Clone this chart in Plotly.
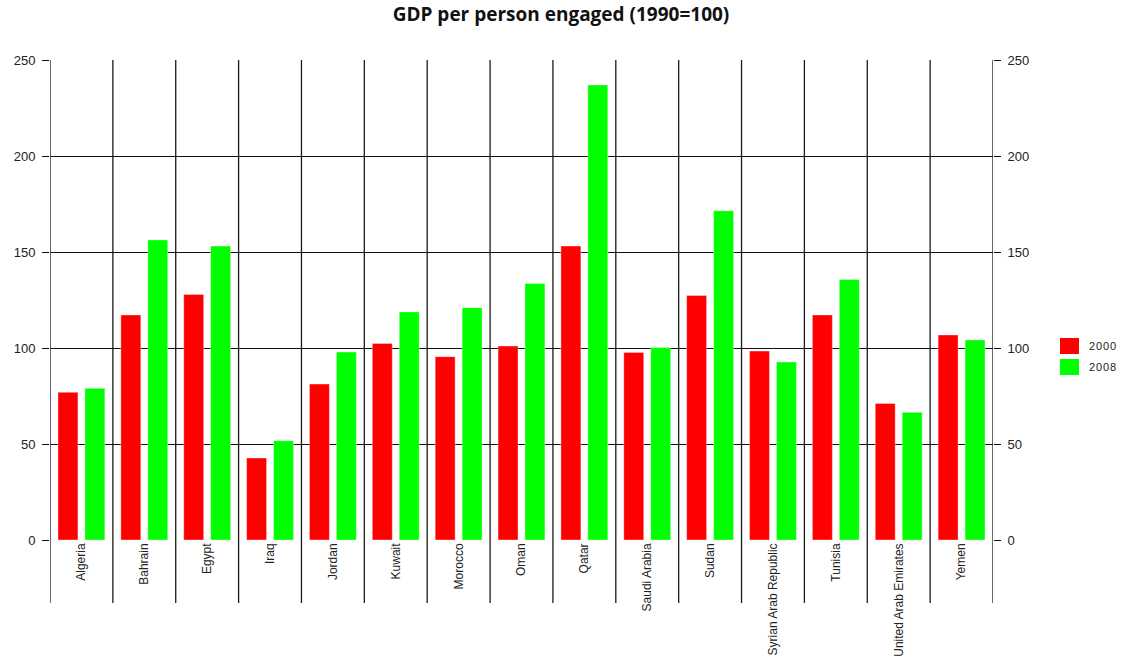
import plotly.graph_objects as go

# GDP per person engaged, index 1990 = 100
countries = ["Algeria", "Bahrain", "Egypt", "Iraq", "Jordan", "Kuwait", "Morocco",
             "Oman", "Qatar", "Saudi Arabia", "Sudan", "Syrian Arab Republic",
             "Tunisia", "United Arab Emirates", "Yemen"]
values_2000 = [76.9, 117.2, 127.9, 42.7, 81.2, 102.4, 95.5, 101.0, 153.1, 97.7,
               127.4, 98.4, 117.2, 71.1, 106.8]
values_2008 = [79.0, 156.3, 153.1, 51.7, 97.9, 118.8, 121.0, 133.6, 237.0, 100.2,
               171.5, 92.7, 135.7, 66.5, 104.2]
series_names = ["2000", "2008"]
series_colors = ["#ff0000", "#00ff00"]
y_ticks = [0, 50, 100, 150, 200, 250]

W, H = 1122, 663
L, R, T, B = 50, 129, 60, 123
plot_w = W - L - R
plot_h = H - T - B

fig = go.Figure()
for name, vals, col in zip(series_names, [values_2000, values_2008], series_colors):
    fig.add_trace(go.Bar(x=countries, y=vals, name=name, marker_color=col,
                         marker_line_color="rgba(255,255,255,0.6)", marker_line_width=0.6,
                         showlegend=False))

# invisible trace so the mirrored right-hand axis gets drawn
fig.add_trace(go.Scatter(x=[countries[0]], y=[0], yaxis="y2", mode="markers",
                         marker_opacity=0, showlegend=False, hoverinfo="skip"))

axis_font = dict(family="Liberation Sans, Arial, sans-serif", size=13, color="#222")
yaxis_common = dict(range=[0, 250], tickvals=y_ticks, ticks="outside", ticklen=7,
                    tickcolor="#111", tickwidth=1, tickfont=axis_font,
                    ticklabelstandoff=4,
                    showline=False, zeroline=False, fixedrange=True)

# category separators running from the top of the plot down through the label band
line_drop = 63 / plot_h
shapes = []
for i in range(len(countries) + 1):
    shapes.append(dict(type="line", xref="x", yref="paper", x0=i - 0.5, x1=i - 0.5,
                       y0=-line_drop, y1=1, line=dict(color="#1a1a1a", width=1.3),
                       layer="above"))

# legend drawn as swatches with labels on the right
annotations = []
sw_w, sw_h = 19, 16
leg_x = 1060
leg_y = [338, 359]
for name, col, ly in zip(series_names, series_colors, leg_y):
    x0 = (leg_x - L) / plot_w
    x1 = (leg_x + sw_w - L) / plot_w
    y1 = (T + plot_h - ly) / plot_h
    y0 = (T + plot_h - ly - sw_h) / plot_h
    shapes.append(dict(type="rect", xref="paper", yref="paper", x0=x0, x1=x1, y0=y0, y1=y1,
                       fillcolor=col, line=dict(color=col, width=0)))
    annotations.append(dict(xref="paper", yref="paper", x=(leg_x + 27 - L) / plot_w,
                            y=(y0 + y1) / 2, text=" ".join(name).replace(" ", "\u200a"),
                            showarrow=False, xanchor="left", yanchor="middle",
                            font=dict(family="Liberation Sans, Arial, sans-serif",
                                      size=11, color="#222")))

fig.update_layout(
    width=W, height=H,
    margin=dict(l=L, r=R, t=T, b=B, autoexpand=False),
    paper_bgcolor="white", plot_bgcolor="white",
    title=dict(text="<b>GDP per person engaged (1990=100)</b>", x=0.5, xanchor="center",
               y=1 - 14 / H, yanchor="middle",
               font=dict(family="Open Sans, sans-serif", size=19, color="#111")),
    barmode="group", bargap=0.143, bargroupgap=0.26,
    xaxis=dict(type="category", range=[-0.5, len(countries) - 0.5], tickangle=-90,
               ticks="", showgrid=False, showline=False, zeroline=False,
               tickfont=dict(family="Liberation Sans Narrow, Liberation Sans, Arial, sans-serif",
                             size=12, color="#222"),
               automargin=False, fixedrange=True),
    yaxis=dict(side="left", showgrid=True, gridcolor="#111", gridwidth=1,
               automargin=False, **yaxis_common),
    yaxis2=dict(side="right", overlaying="y", showgrid=False, automargin=False,
                **yaxis_common),
    shapes=shapes,
    annotations=annotations,
)

fig.write_html("out.html")
